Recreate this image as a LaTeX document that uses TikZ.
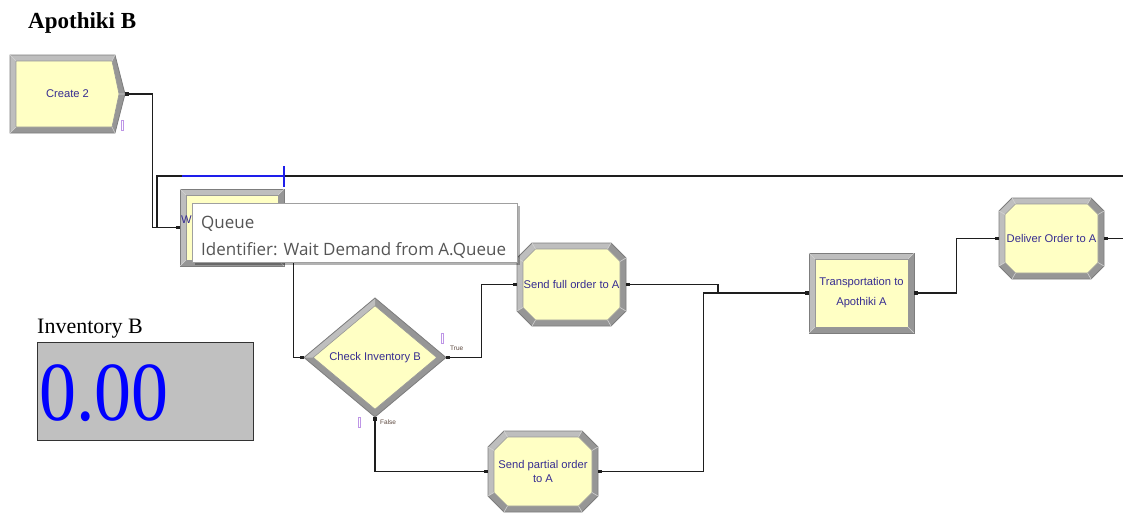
\documentclass[tikz,border=0pt]{standalone}
\usepackage{fontspec}
\setmainfont{Liberation Serif}
\newfontfamily\modfont{Liberation Sans}
\newfontfamily\tipfont{Open Sans}
\usetikzlibrary{arrows.meta,shadows}

\definecolor{modfill}{RGB}{255,255,196}
\definecolor{bandlt}{RGB}{190,190,190}
\definecolor{banddk}{RGB}{150,150,150}
\definecolor{edgec}{RGB}{125,125,125}
\definecolor{bevc}{RGB}{210,210,210}
\definecolor{modtxt}{RGB}{55,45,145}
\definecolor{linec}{RGB}{30,30,30}
\definecolor{portc}{RGB}{190,150,230}
\definecolor{portlbl}{RGB}{90,70,60}
\definecolor{tiptxt}{RGB}{85,85,85}
\definecolor{tipedge}{RGB}{160,160,160}
\definecolor{queueblue}{RGB}{30,30,235}
\definecolor{dispfill}{RGB}{192,192,192}

% beveled rectangle: left, top, right, bottom
\newcommand\bevrect[4]{%
  \fill[banddk] (#1,#2) rectangle (#3,#4);
  \fill[bandlt] (#1,#4) -- (#1,#2) -- (#3,#2) -- (#3-6,#2+6) -- (#1+6,#2+6) -- (#1+6,#4-6) -- cycle;
  \draw[edgec, line width=0.8pt] (#1,#2) rectangle (#3,#4);
  \fill[modfill] (#1+6,#2+6) rectangle (#3-6,#4-6);
  \draw[edgec!80, line width=0.6pt] (#1+6,#2+6) rectangle (#3-6,#4-6);
  \draw[bevc, line width=0.6pt] (#1,#2) -- (#1+6,#2+6) (#3,#2) -- (#3-6,#2+6)
    (#3,#4) -- (#3-6,#4-6) (#1,#4) -- (#1+6,#4-6);
}

% beveled octagon: left, top, right, bottom, chamfer
\newcommand\bevoct[5]{%
  \fill[banddk] (#1+#5,#2) -- (#3-#5,#2) -- (#3,#2+#5) -- (#3,#4-#5) -- (#3-#5,#4)
    -- (#1+#5,#4) -- (#1,#4-#5) -- (#1,#2+#5) -- cycle;
  \fill[bandlt] (#1,#4-#5) -- (#1,#2+#5) -- (#1+#5,#2) -- (#3-#5,#2)
    -- (#3-6-#5+2.5,#2+6) -- (#1+6+#5-2.5,#2+6) -- (#1+6,#2+6+#5-2.5) -- (#1+6,#4-6-#5+2.5) -- cycle;
  \draw[edgec, line width=0.8pt] (#1+#5,#2) -- (#3-#5,#2) -- (#3,#2+#5) -- (#3,#4-#5) -- (#3-#5,#4)
    -- (#1+#5,#4) -- (#1,#4-#5) -- (#1,#2+#5) -- cycle;
  \fill[modfill, draw=edgec!80, line width=0.6pt]
    (#1+6+#5-2.5,#2+6) -- (#3-6-#5+2.5,#2+6) -- (#3-6,#2+6+#5-2.5) -- (#3-6,#4-6-#5+2.5)
    -- (#3-6-#5+2.5,#4-6) -- (#1+6+#5-2.5,#4-6) -- (#1+6,#4-6-#5+2.5) -- (#1+6,#2+6+#5-2.5) -- cycle;
  \draw[bevc, line width=0.6pt]
    (#1+#5,#2) -- (#1+6+#5-2.5,#2+6) (#3-#5,#2) -- (#3-6-#5+2.5,#2+6)
    (#3,#2+#5) -- (#3-6,#2+6+#5-2.5) (#3,#4-#5) -- (#3-6,#4-6-#5+2.5)
    (#3-#5,#4) -- (#3-6-#5+2.5,#4-6) (#1+#5,#4) -- (#1+6+#5-2.5,#4-6)
    (#1,#4-#5) -- (#1+6,#4-6-#5+2.5) (#1,#2+#5) -- (#1+6,#2+6+#5-2.5);
}

\tikzset{
  modnode/.style={inner sep=0pt, align=center, text=modtxt,
    font=\modfont\fontsize{11.2}{13}\selectfont},
  portmark/.style={draw=portc, line width=0.7pt},
  portlabel/.style={inner sep=0pt, text=portlbl, font=\modfont\fontsize{6.5}{7}\selectfont},
  conn/.style={draw=linec, line width=1.4pt,
    arrows={Square[length=3.5pt,width=3.5pt]-Square[length=3.5pt,width=3.5pt]}},
  connin/.style={draw=linec, line width=1.4pt, arrows={-Square[length=3.5pt,width=3.5pt]}},
  connout/.style={draw=linec, line width=1.4pt, arrows={Square[length=3.5pt,width=3.5pt]-}},
  tipbox/.style={draw=tipedge, fill=white, line width=1pt, inner sep=0pt,
    minimum width=325pt, minimum height=59pt,
    drop shadow={shadow xshift=3pt, shadow yshift=-3pt, opacity=0.3, fill=black}},
  tiptext/.style={inner sep=0pt, anchor=base west, text=tiptxt,
    font=\tipfont\fontsize{17}{20}\selectfont},
}

\begin{document}
\begin{tikzpicture}[x=1pt, y=-1pt]
\useasboundingbox (0,0) rectangle (1123,514);

% heading
\node[anchor=base west, inner sep=0pt, font=\bfseries\fontsize{23}{26}\selectfont] (title) at (28,28) {Apothiki B};

% module bodies
% Create 2 (pointed on the right)
\fill[banddk] (10,55) -- (115,55) -- (125,94) -- (115,133) -- (10,133) -- cycle;
\fill[bandlt] (10,133) -- (10,55) -- (115,55) -- (112,61) -- (16,61) -- (16,127) -- cycle;
\draw[edgec, line width=0.8pt] (10,55) -- (115,55) -- (125,94) -- (115,133) -- (10,133) -- cycle;
\fill[modfill, draw=edgec!80, line width=0.6pt] (16,61) -- (112,61) -- (119,94) -- (112,127) -- (16,127) -- cycle;
\draw[bevc, line width=0.6pt] (10,55) -- (16,61) (115,55) -- (112,61) (125,94) -- (119,94)
  (115,133) -- (112,127) (10,133) -- (16,127);

\bevrect{180}{189}{284}{266}
\bevoct{517}{243}{626}{326}{15}
\bevoct{488}{431}{598}{512}{16}
\bevrect{809}{253}{914}{333}
\bevoct{999}{198}{1104}{279}{13}

% Check Inventory B (decision diamond)
\fill[banddk] (304,357.5) -- (375,298) -- (446,357.5) -- (375,417) -- cycle;
\fill[bandlt] (304,357.5) -- (375,298) -- (375,305.8) -- (313.3,357.5) -- cycle;
\draw[edgec, line width=0.8pt] (304,357.5) -- (375,298) -- (446,357.5) -- (375,417) -- cycle;
\fill[modfill, draw=edgec!80, line width=0.6pt] (313.3,357.5) -- (375,305.8) -- (436.7,357.5) -- (375,409.2) -- cycle;

% port markers
\draw[portmark] (121.5,120) rectangle (123.5,130);
\draw[portmark] (441,333) rectangle (443,343);
\draw[portmark] (358,417) rectangle (360,427);

% module labels
\node[modnode, minimum width=115pt, minimum height=78pt] (create) at (67.5,94) {Create 2};
\node[modnode, minimum width=104pt, minimum height=77pt] (wait) at (232,227.5) {};
\node[modnode, anchor=west] (waitlbl) at (181,220) {W};
\node[modnode, minimum width=142pt, minimum height=119pt] (chk) at (375,357.5) {Check Inventory B};
\node[modnode, minimum width=109pt, minimum height=83pt] (full) at (571.5,284.5) {Send full order to A};
\node[modnode, minimum width=110pt, minimum height=81pt, font=\modfont\fontsize{11.2}{14}\selectfont] (partial) at (543,471.5) {Send partial order\\to A};
\node[modnode, minimum width=105pt, minimum height=80pt, font=\modfont\fontsize{11.2}{20}\selectfont] (trans) at (861.5,293) {Transportation to\\Apothiki A};
\node[modnode, minimum width=105pt, minimum height=81pt] (deliv) at (1051.5,238.5) {Deliver Order to A};

\node[portlabel, anchor=west] (truelbl) at (450,348) {True};
\node[portlabel, anchor=west] (falselbl) at (380,422) {False};

% connectors
\coordinate (loopR) at (1123,176);
\coordinate (loopL) at (157,176);
\coordinate (mergeA) at (718,293);
\coordinate (outR) at (1123,238.5);

\draw[connin] (loopR) -- (loopL) |- (wait.west);
\draw[conn] (create.east) -- ++(27,0) |- (wait.west);
\draw[conn] (wait.east) -- ++(9,0) |- (chk.west);
\draw[conn] (chk.east) -- ++(35,0) |- (full.west);
\draw[conn] (chk.south) |- (partial.west);
\draw[connout] (full.east) -| (mergeA);
\draw[conn] (partial.east) -- ++(105,0) |- (trans.west);
\draw[conn] (trans.east) -- ++(42,0) |- (deliv.west);
\draw[connout] (deliv.east) -- (outR);

% queue symbol of the hold module
\draw[queueblue, line width=1.4pt] (182,176) -- (284,176);
\draw[queueblue, line width=1.4pt] (284,166) -- (284,187);

% tooltip over the hold module
\node[tipbox] (tip) at (354.5,232.5) {};
\node[tiptext] (tipq) at (201,228) {Queue};
\node[tiptext] (tipid) at (201,255) {Identifier: Wait Demand from A.Queue};

% inventory display
\node[anchor=base west, inner sep=0pt, font=\fontsize{22}{24}\selectfont] (invlbl) at (37,333) {Inventory B};
\node[draw=black!80, line width=1.2pt, fill=dispfill, inner sep=0pt, minimum width=216pt,
  minimum height=98pt, anchor=north west] (invbox) at (37,342) {};
\node[anchor=base west, inner sep=0pt, text=blue, font=\fontsize{84}{84}\selectfont] (invval) at (39,420) {\scalebox{0.88}[1]{0.00}};
\end{tikzpicture}
\end{document}
